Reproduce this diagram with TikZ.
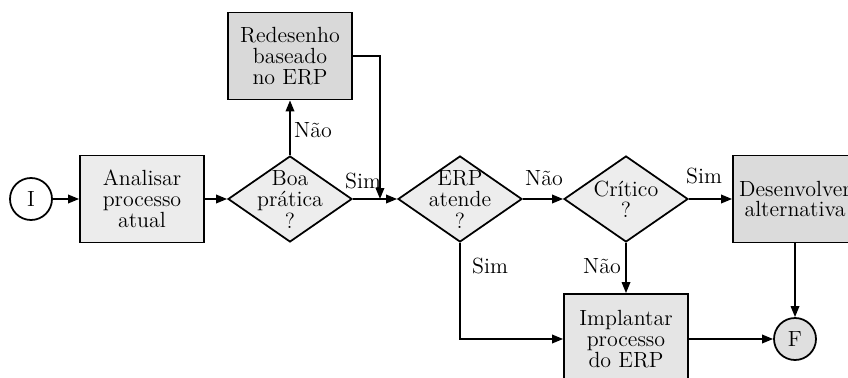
\documentclass[tikz,border=0pt]{standalone}
\usepackage{fontspec}
\usetikzlibrary{arrows.meta, shapes.geometric}

% text of a diamond, kept out of the shape size
\newcommand{\losango}[1]{\makebox[0pt]{\smash{\raisebox{-5pt}{\begin{tabular}{@{}c@{}}#1\end{tabular}}}}}

\begin{document}
\begin{tikzpicture}[line width=1pt, x=0.02cm, y=-0.02cm,
  font=\fontsize{12.5}{11.8}\selectfont,
  caixa/.style={draw, fill=gray!20, minimum width=2.48cm, minimum height=1.74cm, align=center, inner sep=1pt},
  decisao/.style={draw, diamond, fill=gray!14, minimum width=2.48cm, minimum height=1.72cm, inner sep=0pt},
  terminal/.style={draw, circle, minimum size=0.84cm, inner sep=0pt},
  seta/.style={-{Triangle[length=2.2mm, width=1.7mm]}}]

  \def\lin{199}   % main row
  \def\bai{339}   % bottom row

  \useasboundingbox (0,0) rectangle (848,378);
  \clip (0,0) rectangle (848,378);

  %% ── Main row ────────────────────
  \node[terminal, fill=white] (ini) at (31,\lin) {I};
  \node[caixa, fill=gray!15] (analisar) at (142,\lin) {Analisar\\processo\\atual};
  \node[decisao] (boa) at (290,\lin) {\losango{Boa\\prática\\?}};
  \node[decisao] (erp) at (460,\lin) {\losango{ERP\\atende\\?}};
  \node[decisao] (critico) at (626,\lin) {\losango{Crítico\\?}};
  \node[caixa, fill=gray!28] (desenv) at (795,\lin) {Desenvolver\\alternativa};

  %% ── Top and bottom ──────────────
  \node[caixa, fill=gray!30] (redesenho) at (290,56) {Redesenho\\baseado\\no ERP};
  \node[caixa, minimum height=1.8cm] (implantar) at (626,\bai) {Implantar\\processo\\do ERP};
  \node[terminal, fill=gray!25] (fim) at (795,\bai) {F};

  % connectors
  \coordinate (juncao) at (380,\lin);
  \draw[seta] (ini) -- (analisar);
  \draw[seta] (analisar) -- (boa);
  \draw[seta] (boa) -- (erp);
  \draw[seta] (boa) -- (redesenho);
  \draw[seta] (redesenho.east) -| (juncao);
  \draw[seta] (erp) -- (critico);
  \draw[seta] (critico) -- (desenv);
  \draw[seta] (critico) -- (implantar);
  \draw[seta] (erp.south) |- (implantar.west);
  \draw[seta] (implantar) -- (fim);
  \draw[seta] (desenv) -- (fim);

  % labels
  \node (naoBoa) at (313,130) {Não};
  \node (simBoa) at (363,181) {Sim};
  \node (naoErp) at (544,178) {Não};
  \node (simErp) at (490,266) {Sim};
  \node (simCrit) at (704,176) {Sim};
  \node (naoCrit) at (602,266) {Não};

\end{tikzpicture}
\end{document}
